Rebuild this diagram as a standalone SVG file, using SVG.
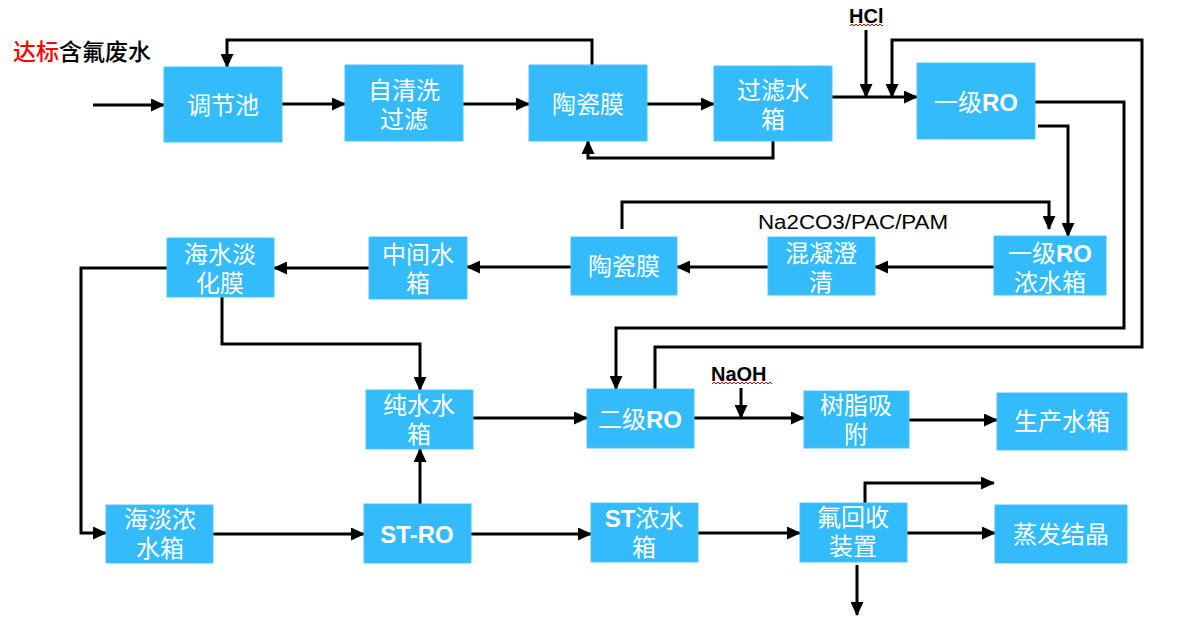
<svg xmlns="http://www.w3.org/2000/svg" width="1200" height="618" viewBox="0 0 1200 618">
<style>
.box{fill:#33BBFC;stroke:#4EC4FB;stroke-width:1}
.t{fill:#ffffff;font-family:"Liberation Sans","Noto Sans CJK SC",sans-serif;font-size:24px;text-anchor:middle;dominant-baseline:central}
.b{font-weight:bold}
.c{fill:none;stroke:#000;stroke-width:3;marker-end:url(#ah)}
.lbl{font-family:"Liberation Sans",sans-serif;font-size:20px;fill:#000}
.sq{fill:none;stroke:#e00000;stroke-width:1}
</style>
<defs>
<marker id="ah" viewBox="0 0 14 13" refX="13" refY="6.5" markerWidth="14" markerHeight="13" markerUnits="userSpaceOnUse" orient="auto">
<path d="M0,0 L14,6.5 L0,13 z" fill="#000"/>
</marker>
</defs>
<rect width="1200" height="618" fill="#ffffff"/>

<text x="13" y="60" font-family="Liberation Sans,Noto Sans CJK SC,sans-serif" font-size="23" font-weight="500"><tspan fill="#ff0000">达标</tspan><tspan fill="#000000">含氟废水</tspan></text>
<text class="lbl b" x="849" y="23">HCl</text>
<path class="sq" d="M850,26 l2,-2 l2,2 l2,-2 l2,2 l2,-2 l2,2 l2,-2 l2,2 l2,-2 l2,2 l2,-2 l2,2 l2,-2 l2,2 l2,-2 l2,2 l1,-1"/>
<text class="lbl" x="758" y="229" font-size="20" textLength="190" lengthAdjust="spacingAndGlyphs">Na2CO3/PAC/PAM</text>
<text class="lbl b" x="711" y="381" font-size="21">NaOH</text>
<path class="sq" d="M712,384 l2,-2 l2,2 l2,-2 l2,2 l2,-2 l2,2 l2,-2 l2,2 l2,-2 l2,2 l2,-2 l2,2 l2,-2 l2,2 l2,-2 l2,2 l2,-2 l2,2 l2,-2 l2,2 l2,-2 l2,2 l2,-2 l2,2 l2,-2 l2,2 l2,-2 l2,2 l2,-2 l2,2"/>

<g id="connectors">
<path class="c" d="M93,105 H164"/>
<path class="c" d="M282,104 H345"/>
<path class="c" d="M463,104 H529"/>
<path class="c" d="M647,104 H714"/>
<path class="c" d="M832,97 H917"/>
<path class="c" d="M866,30 V97"/>
<path class="c" d="M592,65 V40 H227 V67"/>
<path class="c" d="M773,141 V158 H588 V141"/>
<path class="c" d="M655,389 V347 H1142 V40 H892 V97"/>
<path class="c" d="M1035,102 H1124 V328 H616 V389"/>
<path class="c" d="M1038,126 H1068 V236"/>
<path class="c" d="M622,229 V202 H1049 V229"/>
<path class="c" d="M994,267 H875"/>
<path class="c" d="M768,267 H677"/>
<path class="c" d="M571,267 H467"/>
<path class="c" d="M369,268 H274"/>
<path class="c" d="M167,268 H81 V533 H106"/>
<path class="c" d="M222,297 V344 H420 V390"/>
<path class="c" d="M420,504 V449"/>
<path class="c" d="M213,534 H364"/>
<path class="c" d="M471,534 H591"/>
<path class="c" d="M698,533 H800"/>
<path class="c" d="M473,418 H587"/>
<path class="c" d="M694,418 H804"/>
<path class="c" d="M741,388 V418"/>
<path class="c" d="M909,420 H997"/>
<path class="c" d="M865,503 V483 H994"/>
<path class="c" d="M907,533 H995"/>
<path class="c" d="M857,565 V615"/>
</g>

<g id="n1"><rect class="box" x="164" y="67" width="118" height="75"/><text class="t" x="223" y="105">调节池</text></g>
<g id="n2"><rect class="box" x="345" y="65" width="118" height="76"/><text class="t"><tspan x="404" y="90">自清洗</tspan><tspan x="404" y="119">过滤</tspan></text></g>
<g id="n3"><rect class="box" x="529" y="65" width="118" height="76"/><text class="t" x="588" y="104">陶瓷膜</text></g>
<g id="n4"><rect class="box" x="714" y="66" width="118" height="75"/><text class="t"><tspan x="773" y="90">过滤水</tspan><tspan x="773" y="119">箱</tspan></text></g>
<g id="n5"><rect class="box" x="917" y="63" width="118" height="76"/><text class="t" x="976" y="102">一级<tspan class="b">RO</tspan></text></g>
<g id="n6"><rect class="box" x="994" y="236" width="112" height="59"/><text class="t"><tspan x="1050" y="253">一级<tspan class="b">RO</tspan></tspan><tspan x="1050" y="282">浓水箱</tspan></text></g>
<g id="n7"><rect class="box" x="768" y="237" width="107" height="58"/><text class="t"><tspan x="821" y="253">混凝澄</tspan><tspan x="821" y="282">清</tspan></text></g>
<g id="n8"><rect class="box" x="571" y="237" width="106" height="58"/><text class="t" x="624" y="266">陶瓷膜</text></g>
<g id="n9"><rect class="box" x="369" y="237" width="98" height="62"/><text class="t"><tspan x="418" y="254">中间水</tspan><tspan x="418" y="283">箱</tspan></text></g>
<g id="n10"><rect class="box" x="167" y="238" width="107" height="59"/><text class="t"><tspan x="220" y="254">海水淡</tspan><tspan x="220" y="283">化膜</tspan></text></g>
<g id="n11"><rect class="box" x="366" y="390" width="107" height="59"/><text class="t"><tspan x="419" y="405">纯水水</tspan><tspan x="419" y="434">箱</tspan></text></g>
<g id="n12"><rect class="box" x="587" y="389" width="107" height="59"/><text class="t" x="640" y="419">二级<tspan class="b">RO</tspan></text></g>
<g id="n13"><rect class="box" x="804" y="391" width="105" height="57"/><text class="t"><tspan x="856" y="405">树脂吸</tspan><tspan x="856" y="434">附</tspan></text></g>
<g id="n14"><rect class="box" x="997" y="393" width="130" height="57"/><text class="t" x="1062" y="421">生产水箱</text></g>
<g id="n15"><rect class="box" x="106" y="505" width="107" height="58"/><text class="t"><tspan x="160" y="519">海淡浓</tspan><tspan x="160" y="548">水箱</tspan></text></g>
<g id="n16"><rect class="box" x="364" y="504" width="107" height="59"/><text class="t b" x="417" y="534" font-size="20">ST-RO</text></g>
<g id="n17"><rect class="box" x="591" y="503" width="107" height="59"/><text class="t"><tspan x="644" y="518"><tspan class="b">ST</tspan>浓水</tspan><tspan x="644" y="547">箱</tspan></text></g>
<g id="n18"><rect class="box" x="800" y="503" width="107" height="59"/><text class="t"><tspan x="853" y="517">氟回收</tspan><tspan x="853" y="546">装置</tspan></text></g>
<g id="n19"><rect class="box" x="995" y="505" width="132" height="58"/><text class="t" x="1061" y="534">蒸发结晶</text></g>
</svg>
